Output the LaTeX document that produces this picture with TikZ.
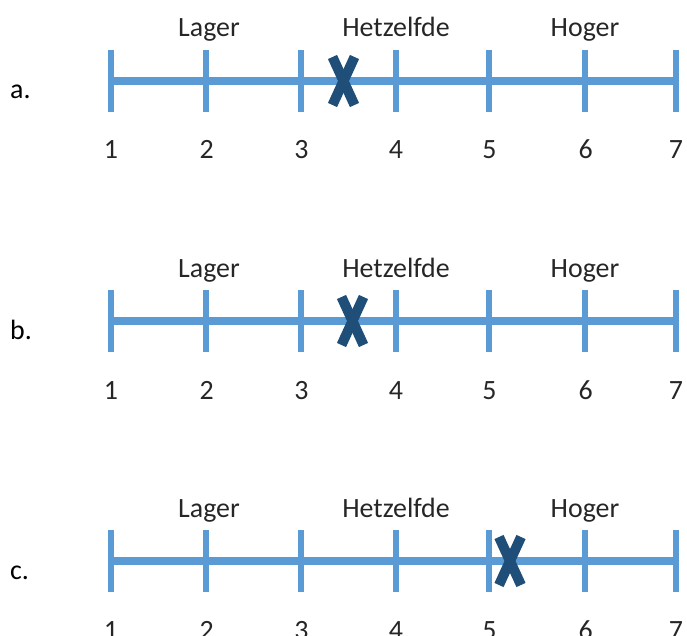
\documentclass[tikz,border=0pt]{standalone}
\usepackage{fontspec}
\setmainfont{Carlito}
\definecolor{axisblue}{HTML}{5B9BD5}
\definecolor{markblue}{HTML}{1F4E79}
\tikzset{
  axisline/.style={draw=axisblue, line width=8bp},
  tickline/.style={draw=axisblue, line width=6bp},
  markline/.style={draw=markblue, line width=10bp},
  scaletext/.style={anchor=base, inner sep=0pt, font=\fontsize{28}{33}\selectfont, text=black!85},
  rowlabel/.style={anchor=base west, inner sep=0pt, font=\fontsize{28}{33}\selectfont, text=black},
}
\begin{document}
\begin{tikzpicture}[x=1bp, y=-1bp]
  \useasboundingbox (0,0) rectangle (687,636);
  % one rating scale per row: name / axis height / position of the cross
  \foreach \row/\ay/\mx in {a/81/343.5, b/321/352.5, c/561/510} {
    % tick positions on the scale 1..7
    \foreach \n/\tx in {1/110.5, 2/206.3, 3/301, 4/395.5, 5/489, 6/585.3, 7/675.5} {
      \coordinate (\row-t\n) at (\tx, \ay);
      \coordinate (\row-t\n-top) at (\tx, \ay-31);
      \coordinate (\row-t\n-bot) at (\tx, \ay+31);
      \coordinate (\row-n\n) at (\tx+0.5, \ay+78);
    }
    \draw[axisline] (\row-t1) -- (\row-t7);
    \foreach \n in {1,...,7} {
      \draw[tickline] (\row-t\n-top) -- (\row-t\n-bot);
      \node[scaletext] (\row-num\n) at (\row-n\n) {\n};
    }
    % category names above ticks 2, 4 and 6
    \node[scaletext] (\row-lager) at (209, \ay-44) {Lager};
    \node[scaletext] (\row-same) at (396, \ay-44) {Hetzelfde};
    \node[scaletext] (\row-hoger) at (585, \ay-44) {Hoger};
    % row letter
    \node[rowlabel] (\row-label) at (10, \ay+18) {\row.};
    % the cross marking the chosen position
    \coordinate (\row-mark) at (\mx, \ay);
    \draw[markline] ([shift={(-11,24)}]\row-mark) -- ([shift={(11,-24)}]\row-mark);
    \draw[markline] ([shift={(11,24)}]\row-mark) -- ([shift={(-11,-24)}]\row-mark);
  }
\end{tikzpicture}
\end{document}
